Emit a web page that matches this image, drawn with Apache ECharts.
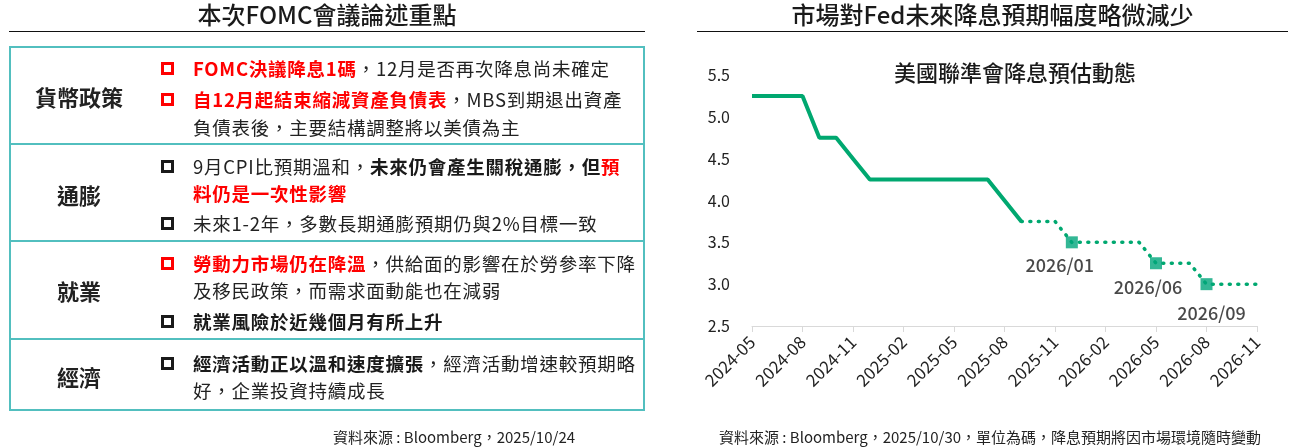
<!DOCTYPE html>
<html>
<head>
<meta charset="utf-8">
<script src="https://cdn.jsdelivr.net/npm/echarts@6/dist/echarts.min.js"></script>
<style>
html, body { margin: 0; padding: 0; background: #fff; }
body {
    width: 1289px; height: 447px; overflow: hidden; position: relative;
    font-family: "Noto Sans CJK TC", "Noto Sans", sans-serif; color: #222;
}
#chart { position: absolute; left: 0; top: 0; width: 1289px; height: 447px; }
.abs { position: absolute; white-space: nowrap; }
.head { font-size: 24px; line-height: 28px; color: #1a1a1a; font-weight: 500; text-align: center; top: 0; }
.rule { position: absolute; top: 31px; height: 1px; background: #111; }
.box { position: absolute; left: 9px; top: 46px; width: 636px; height: 365px; border: 2px solid #52bfbf; box-sizing: border-box; }
.sep { position: absolute; left: 9px; width: 636px; height: 2px; background: #52bfbf; }
.cat { font-size: 22px; font-weight: bold; line-height: 28px; color: #222; text-align: center; width: 140px; left: 9px; }
.ln { font-size: 18.5px; line-height: 28px; letter-spacing: 0.75px; left: 193px; color: #222; }
.b { font-weight: bold; color: #1a1a1a; }
.r { font-weight: bold; color: #f00; }
.sq { position: absolute; left: 161px; width: 13px; height: 13px; border: 3px solid #1a1a1a; box-sizing: border-box; }
.sq.red { border-color: #f00; }
.note { font-size: 15px; line-height: 20px; color: #222; text-align: center; top: 427px; }
</style>
</head>
<body>
<div id="chart"></div>

<!-- left: meeting summary -->
<div class="abs head" style="left:9px;width:636px;">本次FOMC會議論述重點</div>
<div class="rule" style="left:9px;width:636px;"></div>
<div class="box"></div>
<div class="sep" style="top:143px;"></div>
<div class="sep" style="top:240px;"></div>
<div class="sep" style="top:338px;"></div>

<div class="abs cat" style="top:82px;">貨幣政策</div>
<div class="abs cat" style="top:180px;">通膨</div>
<div class="abs cat" style="top:276px;">就業</div>
<div class="abs cat" style="top:362px;">經濟</div>

<div class="sq red" style="top:62px;"></div>
<div class="abs ln" style="top:54px;"><span class="r">FOMC決議降息1碼</span>，12月是否再次降息尚未確定</div>
<div class="sq red" style="top:93px;"></div>
<div class="abs ln" style="top:85px;"><span class="r">自12月起結束縮減資產負債表</span>，MBS到期退出資產</div>
<div class="abs ln" style="top:113px;">負債表後，主要結構調整將以美債為主</div>

<div class="sq" style="top:160px;"></div>
<div class="abs ln" style="top:152px;">9月CPI比預期溫和，<span class="b">未來仍會產生關稅通膨，但</span><span class="r">預</span></div>
<div class="abs ln" style="top:179px;"><span class="r">料仍是一次性影響</span></div>
<div class="sq" style="top:217px;"></div>
<div class="abs ln" style="top:209px;">未來1-2年，多數長期通膨預期仍與2%目標一致</div>

<div class="sq red" style="top:257px;"></div>
<div class="abs ln" style="top:249px;"><span class="r">勞動力市場仍在降溫</span>，供給面的影響在於勞參率下降</div>
<div class="abs ln" style="top:276px;">及移民政策，而需求面動能也在減弱</div>
<div class="sq" style="top:315px;"></div>
<div class="abs ln" style="top:307px;"><span class="b">就業風險於近幾個月有所上升</span></div>

<div class="sq" style="top:357px;"></div>
<div class="abs ln" style="top:349px;"><span class="b">經濟活動正以溫和速度擴張</span>，經濟活動增速較預期略</div>
<div class="abs ln" style="top:376px;">好，企業投資持續成長</div>

<div class="abs note" style="left:254px;width:400px;">資料來源 : Bloomberg，2025/10/24</div>

<!-- right: chart heading -->
<div class="abs head" style="left:697px;width:591px;">市場對Fed未來降息預期幅度略微減少</div>
<div class="rule" style="left:697px;width:591px;"></div>
<div class="abs note" style="left:690px;width:600px;">資料來源 : Bloomberg，2025/10/30，單位為碼，降息預期將因市場環境隨時變動</div>

<script>
const months = [
    '2024-05', '2024-06', '2024-07', '2024-08', '2024-09', '2024-10', '2024-11', '2024-12',
    '2025-01', '2025-02', '2025-03', '2025-04', '2025-05', '2025-06', '2025-07', '2025-08',
    '2025-09', '2025-10', '2025-11', '2025-12', '2026-01', '2026-02', '2026-03', '2026-04',
    '2026-05', '2026-06', '2026-07', '2026-08', '2026-09', '2026-10', '2026-11'
]
// realised path, from 2024-05
const actualRate = [5.25, 5.25, 5.25, 5.25, 4.75, 4.75, 4.5, 4.25, 4.25, 4.25, 4.25, 4.25, 4.25, 4.25, 4.25, 4.0, 3.75]
// market expectation, from forecastStart
const forecastStart = '2025-09'
const forecastRate = [3.75, 3.75, 3.75, 3.5, 3.5, 3.5, 3.5, 3.5, 3.25, 3.25, 3.25, 3.0, 3.0, 3.0, 3.0]
const meetingMonths = ['2025-12', '2026-05', '2026-08']
const meetingLabels = ['2026/01', '2026/06', '2026/09']
const yTicks = [2.5, 3.0, 3.5, 4.0, 4.5, 5.0, 5.5]

const GREEN = '#00a870'
const MARK = '#00a57a'
const LABEL_OFFSETS = [[-12, 23], [-8, 24], [5, 29]]

const startIdx = months.indexOf(forecastStart)
const solidData = months.map((m, i) => (i < actualRate.length ? actualRate[i] : null))
const dottedData = months.map((m, i) => (i >= startIdx ? forecastRate[i - startIdx] : null))
const markData = meetingMonths.map((m, k) => {
    const idx = months.indexOf(m)
    return {
        value: [idx, forecastRate[idx - startIdx]],
        label: { formatter: meetingLabels[k], offset: LABEL_OFFSETS[k] }
    }
})

const chart = echarts.init(document.getElementById('chart'))
chart.setOption({
    animation: false,
    textStyle: { fontFamily: '"Noto Sans CJK TC", "Noto Sans", sans-serif' },
    graphic: [{
        type: 'text',
        x: 1015,
        y: 73,
        style: {
            text: '美國聯準會降息預估動態',
            fontSize: 22,
            fontWeight: 500,
            fill: '#1a1a1a',
            align: 'center',
            verticalAlign: 'middle',
            fontFamily: '"Noto Sans CJK TC", sans-serif'
        }
    }],
    grid: { left: 752, right: 32, top: 75, bottom: 121, containLabel: false },
    xAxis: {
        type: 'category',
        data: months,
        boundaryGap: false,
        axisLine: { lineStyle: { color: '#d9d9d9', width: 1 } },
        axisTick: { show: true, interval: 2, length: 6, lineStyle: { color: '#d9d9d9' } },
        axisLabel: { interval: 2, rotate: 45, fontSize: 17, color: '#222', margin: 13 },
        splitLine: { show: false }
    },
    yAxis: {
        type: 'value',
        min: yTicks[0],
        max: yTicks[yTicks.length - 1],
        interval: yTicks[1] - yTicks[0],
        axisLine: { show: false },
        axisTick: { show: false },
        splitLine: { show: false },
        axisLabel: { fontSize: 16, color: '#222', margin: 22, formatter: v => v.toFixed(1) }
    },
    series: [
        {
            type: 'line',
            data: solidData,
            showSymbol: false,
            lineStyle: { color: GREEN, width: 4 },
            z: 2
        },
        {
            type: 'line',
            data: dottedData,
            showSymbol: false,
            lineStyle: { color: GREEN, width: 3.5, type: [1, 7.5], cap: 'round' },
            z: 2
        },
        {
            type: 'scatter',
            data: markData,
            symbol: 'rect',
            symbolSize: 12,
            itemStyle: { color: MARK },
            label: { show: true, position: 'inside', fontSize: 18, fontWeight: 500, color: '#1a1a1a' },
            z: 3
        }
    ]
})
</script>
</body>
</html>
